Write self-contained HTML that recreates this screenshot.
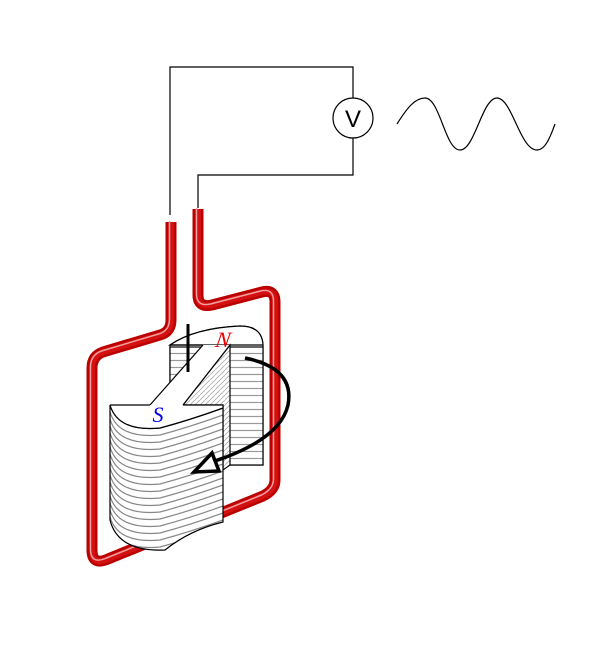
<!DOCTYPE html>
<html><head><style>body{margin:0;background:#fff}svg{display:block}</style></head><body>
<svg width="600" height="666" viewBox="0 0 600 666" xmlns="http://www.w3.org/2000/svg">
<defs>
<pattern id="hl" width="8" height="7" patternUnits="userSpaceOnUse"><rect width="8" height="7" fill="#fff"/><line x1="0" y1="3.5" x2="8" y2="3.5" stroke="#999" stroke-width="1.2"/></pattern>
<pattern id="hd" width="5" height="5" patternUnits="userSpaceOnUse"><rect width="5" height="5" fill="#fff"/><path d="M0 5L5 0" stroke="#aaa" stroke-width="0.8"/></pattern>
<clipPath id="fc"><path d="M110 405Q118 432 160 428Q190 420 223 408V522Q190 530 165 550Q118 552 110 520Z"/></clipPath>
<path id="st" d="M110 0Q118 27 160 23Q190 15 223 3" fill="none" stroke="#888" stroke-width="1.2"/>
</defs>
<path d="M170 215V67H353V98M353 138V175H198V208" fill="none" stroke="#000" stroke-width="1.2"/>
<circle cx="353" cy="118" r="20" fill="#fff" stroke="#000" stroke-width="1.2"/>
<text x="353" y="127" font-family="Liberation Sans, sans-serif" font-size="24" text-anchor="middle">V</text>
<path d="M397 124C407 108 415 98 425 98C440 98 445 150 460 150C475 150 482 98 497 98C512 98 520 150 537 150C545 150 550 138 555 124" fill="none" stroke="#000" stroke-width="1.2"/>
<g fill="none" stroke-linecap="butt" stroke-linejoin="round">
<path id="loop" d="M171 222V320Q171 332 160 335L103 352Q92 356 92 368V550Q92 566 108 559L263 496Q275 490 275 480V302Q275 289 262 292L212 305Q198 308 198 295V209"/>
<use href="#loop" stroke="#b00" stroke-width="11"/>
<use href="#loop" stroke="#d41010" stroke-width="6"/>
<use href="#loop" stroke="#f0a0a0" stroke-width="1.5" transform="translate(-1.5,-1)"/>
</g>
<path d="M170 345V465H263V345Q262 326 240 326Q195 328 170 345Z" fill="#fff" stroke="#000" stroke-width="1.2"/>
<rect x="170" y="347" width="93" height="118" fill="url(#hl)" stroke="#000" stroke-width="1.2"/>
<path d="M170 345Q195 328 240 326Q262 326 263 345Z" fill="#fff" stroke="#000" stroke-width="1.2"/>
<path d="M230 345L183 405H223V470L230 465Z" fill="url(#hd)" stroke="#000" stroke-width="1.2"/>
<path d="M203 345L150 405H183L230 345Z" fill="#fff" stroke="none"/>
<path d="M203 345L150 405M230 345L183 405" stroke="#000" stroke-width="1.2"/>
<line x1="170" y1="345" x2="203" y2="345" stroke="#000" stroke-width="1.2"/>
<line x1="188" y1="324" x2="188" y2="372" stroke="#000" stroke-width="3"/>
<text x="222" y="347" font-family="Liberation Serif, serif" font-style="italic" font-size="22" fill="#e00" text-anchor="middle" transform="skewX(-10) translate(61,0)">N</text>
<path d="M110 405Q118 432 160 428Q190 420 223 408V522Q190 530 165 550Q118 552 110 520Z" fill="#fff"/>
<g clip-path="url(#fc)">
<use href="#st" y="412"/><use href="#st" y="419"/><use href="#st" y="426"/><use href="#st" y="433"/><use href="#st" y="440"/><use href="#st" y="447"/><use href="#st" y="454"/><use href="#st" y="461"/><use href="#st" y="468"/><use href="#st" y="475"/><use href="#st" y="482"/><use href="#st" y="489"/><use href="#st" y="496"/><use href="#st" y="503"/><use href="#st" y="510"/><use href="#st" y="517"/><use href="#st" y="524"/><use href="#st" y="531"/>
</g>
<path d="M110 405Q118 432 160 428Q190 420 223 408V522Q190 530 165 550Q118 552 110 520Z" fill="none" stroke="#000" stroke-width="1.2"/>
<path d="M110 405Q118 432 160 428Q190 420 223 408V405H183M150 405H110" fill="#fff" stroke="#000" stroke-width="1.2"/>
<text x="158" y="422" font-family="Liberation Serif, serif" font-style="italic" font-size="22" fill="#00e" text-anchor="middle">S</text>
<path d="M245 358Q295 368 288 405Q280 440 212 462" fill="none" stroke="#000" stroke-width="3.5"/>
<path d="M194 472L212 453L219 471Z" fill="#fff" stroke="#000" stroke-width="3.5"/>
</svg>
</body></html>
